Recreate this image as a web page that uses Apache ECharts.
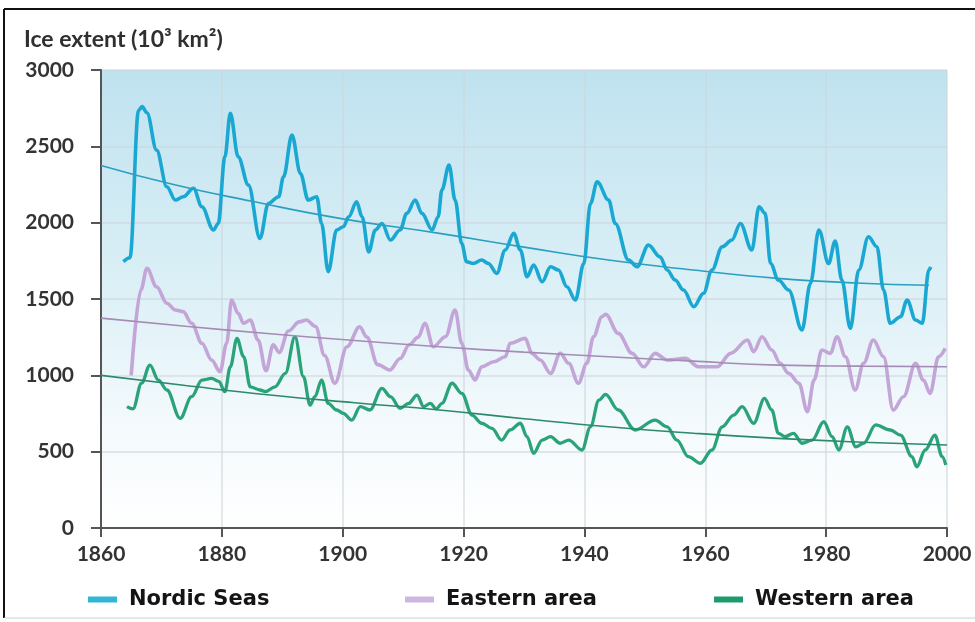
<!DOCTYPE html>
<html>
<head>
<meta charset="utf-8">
<script src="https://cdn.jsdelivr.net/npm/echarts@6/dist/echarts.min.js"></script>
<style>
html,body{margin:0;padding:0;background:#fff;}
#chart{width:975px;height:622px;}
</style>
</head>
<body>
<div id="chart"></div>
<script>
// ---- data (year, ice extent in 10^3 km^2) ----
const seriesNames = ['Nordic Seas', 'Eastern area', 'Western area'];
const xTicks = [1860, 1880, 1900, 1920, 1940, 1960, 1980, 2000];
const yTicks = [0, 500, 1000, 1500, 2000, 2500, 3000];

const nordicSeas = [
  [1863.7,1745],[1864.8,1770],[1866.2,2735],[1866.8,2760],[1867.6,2720],[1869.2,2475],[1870.9,2235],
  [1872.3,2148],[1873.6,2170],[1875.3,2225],[1876.7,2104],[1878.6,1952],[1879.4,1995],[1880.5,2431],
  [1881.4,2716],[1882.7,2431],[1884.4,2246],[1886.3,1897],[1887.7,2126],[1889.4,2170],[1890.2,2300],
  [1891.6,2574],[1893,2322],[1894.3,2148],[1895.7,2170],[1896.5,1995],[1897.6,1679],[1899,1952],
  [1900.1,1973],[1901,2039],[1902.3,2137],[1903.2,2039],[1904.3,1809],[1905.4,1952],[1906.5,1995],
  [1907.9,1886],[1909.5,1952],[1910.6,2061],[1912,2148],[1913.1,2061],[1914.8,1952],[1915.8,2039],
  [1916.4,2214],[1917.6,2377],[1918.6,2148],[1919.7,1864],[1920.5,1744],[1921.6,1733],[1923,1755],
  [1924.1,1733],[1925.5,1668],[1926.9,1821],[1928.3,1930],[1929.4,1821],[1930.5,1646],[1931.6,1722],
  [1933,1613],[1934.4,1711],[1935.7,1690],[1937.1,1580],[1938.5,1493],[1939.9,1733],[1941,2126],
  [1942.1,2268],[1944,2148],[1945.1,1995],[1947.3,1755],[1948.7,1711],[1950.6,1853],[1952.5,1777],
  [1953.7,1690],[1955,1624],[1956.4,1559],[1958.1,1449],[1959.7,1537],[1961.1,1690],[1962.8,1842],
  [1964.4,1886],[1965.8,1995],[1967.7,1821],[1968.9,2104],[1969.9,2061],[1970.8,1733],[1972.1,1624],
  [1973.8,1559],[1976,1297],[1977.4,1602],[1978.8,1952],[1980.4,1733],[1981.5,1880],[1982.6,1624],
  [1984,1308],[1985.4,1690],[1987,1908],[1988.4,1842],[1989.5,1559],[1990.6,1341],[1992.3,1384],
  [1993.4,1493],[1994.8,1362],[1995.9,1341],[1997,1690],[1997.3,1711]
];

const easternArea = [
  [1865,1000],[1866.6,1560],[1867.6,1701],[1869.2,1580],[1870.9,1472],[1872.3,1428],[1873.6,1417],
  [1875,1341],[1876.7,1210],[1878.3,1100],[1879.7,1024],[1880.8,1210],[1881.6,1493],[1882.7,1406],
  [1883.6,1341],[1884.7,1362],[1886,1231],[1887.3,1030],[1888.5,1200],[1889.5,1150],[1891,1290],
  [1892.8,1350],[1894,1362],[1895.5,1320],[1897,1130],[1898.7,948],[1900.7,1187],[1902.8,1318],
  [1904,1250],[1905.8,1070],[1907.8,1035],[1909.5,1110],[1911,1200],[1912.5,1250],[1913.6,1341],
  [1915,1187],[1917,1253],[1918.6,1428],[1919.7,1210],[1920.8,1035],[1921.9,969],[1923,1056],
  [1925,1089],[1926.9,1122],[1927.7,1210],[1930.2,1242],[1931.3,1144],[1932.7,1100],[1934.4,1013],
  [1936,1144],[1937.4,1079],[1939,948],[1940.4,1079],[1941.5,1253],[1942.9,1384],[1943.5,1400],
  [1945.6,1275],[1947.9,1144],[1949.8,1056],[1951.7,1144],[1953.7,1100],[1956.7,1111],[1958.9,1056],
  [1962,1056],[1964.2,1144],[1967,1231],[1968,1155],[1969.4,1253],[1971,1166],[1972.4,1079],
  [1973.8,1013],[1975.5,948],[1976.9,762],[1978,969],[1979.3,1166],[1980.7,1144],[1981.8,1253],
  [1983.2,1122],[1984.8,904],[1986.2,1079],[1987.8,1231],[1989.5,1122],[1991.1,773],[1992.8,860],
  [1994.8,1079],[1996.1,969],[1997.2,882],[1998.6,1122],[1999.7,1177]
];

const westernArea = [
  [1864.3,795],[1865.3,780],[1866.7,948],[1868.1,1067],[1869.5,969],[1870.9,904],[1873.1,718],
  [1875,860],[1876.7,969],[1878.3,980],[1879.5,960],[1880.5,893],[1881.4,1056],[1882.5,1242],
  [1883.6,1122],[1884.7,925],[1886.3,904],[1887.2,893],[1888.8,925],[1890.5,1013],[1892.1,1253],
  [1893.5,991],[1894.6,805],[1895.4,860],[1896.5,969],[1897.6,816],[1899,773],[1900.1,751],
  [1901.5,707],[1902.9,795],[1904.5,773],[1906.5,915],[1907.9,860],[1909.5,784],[1910.9,816],
  [1912.3,871],[1913.4,795],[1914.5,816],[1915.5,780],[1916.4,816],[1918.1,948],[1919.7,882],
  [1921.4,740],[1923,686],[1924.7,653],[1926.3,576],[1927.7,642],[1929.4,686],[1930.5,598],
  [1931.6,489],[1933,576],[1934.4,598],[1936,555],[1937.4,576],[1939.6,511],[1941,663],[1942.4,838],
  [1943.5,875],[1945.6,773],[1948.4,642],[1951.7,707],[1953.7,663],[1955.3,576],[1957.2,467],
  [1959.2,424],[1961.1,511],[1962.8,663],[1964.7,740],[1966.1,795],[1968,686],[1969.8,849],
  [1971,773],[1972.1,620],[1973.2,598],[1974.6,620],[1976,555],[1977.7,576],[1979.6,696],[1981,598],
  [1982.1,511],[1983.5,663],[1984.9,532],[1986.2,555],[1988.2,675],[1990.6,642],[1992.3,609],
  [1994.2,467],[1995,401],[1996.4,511],[1998,609],[1999.2,467],[1999.8,413]
];

const nordicTrend  = [[1860,2375],[1872,2250],[1885,2140],[1900,2025],[1916,1930],[1930,1840],[1944,1755],[1958,1690],[1972,1635],[1985,1605],[1997,1590]];
const easternTrend = [[1860,1375],[1874,1322],[1888,1272],[1902,1228],[1916,1187],[1930,1152],[1944,1122],[1958,1093],[1972,1067],[1986,1060],[2000,1056]];
const westernTrend = [[1860,1000],[1874,933],[1888,871],[1902,820],[1916,773],[1930,716],[1944,663],[1958,621],[1972,587],[1986,562],[2000,544]];

// ---- styles ----
const FONT = 'Lato, "Open Sans", sans-serif';
const LEGEND_FONT = '"DejaVu Sans", "Open Sans", sans-serif';
const colors = {
  nordic: '#1aa8d2', nordicTrend: '#2a9fc2', nordicIcon: '#33b6d6',
  eastern: '#c4a5d8', easternTrend: '#a48cb5', easternIcon: '#cdb6df',
  western: '#2aa378', westernTrend: '#2c8a6a', westernIcon: '#1f9a6c'
};

const chart = echarts.init(document.getElementById('chart'), null, {renderer: 'canvas'});

function legendFor(name, left, icon) {
  return {
    data: [{name: name, itemStyle: {color: icon}}],
    left: left, top: 584,
    icon: 'rect', itemWidth: 29, itemHeight: 6,
    textStyle: {fontFamily: LEGEND_FONT, fontWeight: 'bold', fontSize: 21, color: '#141414', padding: [0, 0, 0, 7]},
    selectedMode: false
  };
}

function dataSeries(name, data, color, width) {
  return {
    name: name, type: 'line', data: data, smooth: 0.35, smoothMonotone: 'x',
    showSymbol: false, symbol: 'none',
    lineStyle: {color: color, width: width}, itemStyle: {color: color},
    z: 3
  };
}
function trendSeries(name, data, color) {
  return {
    name: name, type: 'line', data: data, smooth: true,
    showSymbol: false, symbol: 'none', silent: true,
    lineStyle: {color: color, width: 1.6}, z: 4
  };
}

const option = {
  backgroundColor: '#ffffff',
  animation: false,
  textStyle: {fontFamily: FONT},
  title: {
    text: 'Ice extent (10³ km²)',
    left: 19, top: 23,
    textStyle: {fontFamily: FONT, fontSize: 23, fontWeight: 'bold', color: '#2f2f2f'}
  },
  legend: [
    legendFor(seriesNames[0], 83, colors.nordicIcon),
    legendFor(seriesNames[1], 400, colors.easternIcon),
    legendFor(seriesNames[2], 709, colors.westernIcon)
  ],
  grid: {
    left: 101, right: 28, top: 70, bottom: 94,
    show: true, borderWidth: 0,
    backgroundColor: {
      type: 'linear', x: 0, y: 0, x2: 0, y2: 1,
      colorStops: [
        {offset: 0, color: '#bfe2ef'},
        {offset: 0.45, color: '#daeff6'},
        {offset: 0.75, color: '#f2f9fc'},
        {offset: 1, color: '#ffffff'}
      ]
    }
  },
  xAxis: {
    type: 'value', min: xTicks[0], max: xTicks[xTicks.length - 1], interval: 20,
    axisLine: {show: true, lineStyle: {color: '#555', width: 2}},
    axisTick: {show: true, inside: false, length: 9, lineStyle: {color: '#555', width: 2}},
    axisLabel: {fontFamily: FONT, fontSize: 21, fontWeight: 'bold', color: '#333', margin: 16,
      formatter: v => String(v)},
    splitLine: {show: true, lineStyle: {color: 'rgba(205,215,220,0.75)', width: 1.5}}
  },
  yAxis: {
    type: 'value', min: yTicks[0], max: yTicks[yTicks.length - 1], interval: 500,
    axisLine: {show: true, lineStyle: {color: '#555', width: 2}},
    axisTick: {show: true, inside: false, length: 10, lineStyle: {color: '#555', width: 2}},
    axisLabel: {fontFamily: FONT, fontSize: 21, fontWeight: 'bold', color: '#333', margin: 27,
      formatter: v => String(v)},
    splitLine: {show: true, lineStyle: {color: 'rgba(205,215,220,0.75)', width: 1.5}}
  },
  series: [
    dataSeries(seriesNames[0], nordicSeas, colors.nordic, 3.6),
    dataSeries(seriesNames[1], easternArea, colors.eastern, 3.6),
    dataSeries(seriesNames[2], westernArea, colors.western, 3.3),
    trendSeries('Nordic Seas trend', nordicTrend, colors.nordicTrend),
    trendSeries('Eastern area trend', easternTrend, colors.easternTrend),
    trendSeries('Western area trend', westernTrend, colors.westernTrend)
  ],
  graphic: [
    {type: 'line', shape: {x1: 4, y1: 9, x2: 975, y2: 9}, style: {stroke: '#111', lineWidth: 2}, silent: true},
    {type: 'line', shape: {x1: 4, y1: 9, x2: 4, y2: 618}, style: {stroke: '#111', lineWidth: 2}, silent: true},
    {type: 'line', shape: {x1: 4, y1: 618, x2: 975, y2: 618}, style: {stroke: '#d0d0d0', lineWidth: 1}, silent: true}
  ]
};

chart.setOption(option);
</script>
</body>
</html>
